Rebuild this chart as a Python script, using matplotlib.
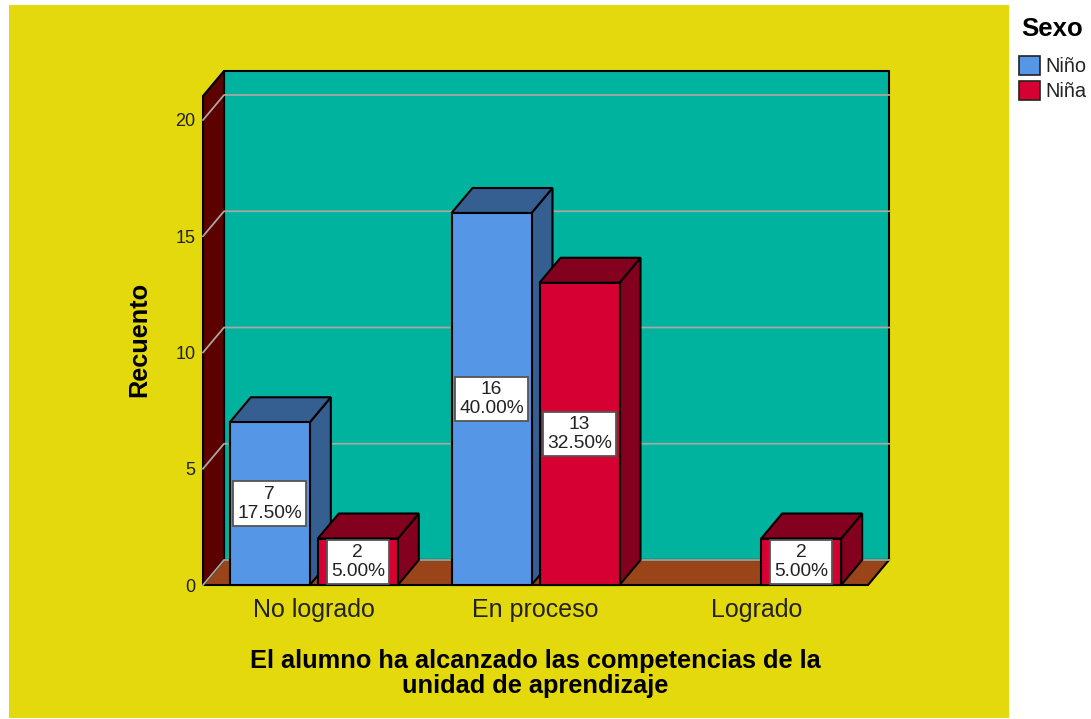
import matplotlib
matplotlib.use("Agg")
import matplotlib.pyplot as plt
from matplotlib.patches import Polygon, Rectangle, Patch

plt.rcParams['font.family'] = ['Liberation Sans', 'DejaVu Sans']

categories = ["No logrado", "En proceso", "Logrado"]
series_names = ["Niño", "Niña"]
nino = [7, 16, 0]
nina = [2, 13, 2]
nino_pct = ["17.50%", "40.00%", ""]
nina_pct = ["5.00%", "32.50%", "5.00%"]
yticks = [0, 5, 10, 15, 20]

W, H = 1091, 719
YELLOW = "#E3D90C"; TEAL = "#00B39F"; WALL = "#5C0000"; FLOOR = "#9A4419"
GRID = "#A8A8A0"
FACE = {"Niño": ("#5596E6", "#355E91"), "Niña": ("#D60032", "#84001F")}

fig = plt.figure(figsize=(W/100, H/100), dpi=100, facecolor="white")
fig.add_artist(Rectangle((9/W, 1-718/H), 1000/W, 713/H, transform=fig.transFigure,
                         fc=YELLOW, ec="none", zorder=-5))
ax = fig.add_axes([203/W, 1-585/H, 665/W, 489/H], facecolor="none")
ymax = 489/23.25
ax.set_xlim(-0.5, 2.5)
ax.set_ylim(0, ymax)
for s in ax.spines.values():
    s.set_visible(False)

# oblique depth of the 3-D box, in data units
dx = 21/665*3
dy = 25/23.25
lw = 1.5
x0, x1 = -0.5, 2.5

def poly(pts, fc, z, ec="black", lw_=lw):
    ax.add_patch(Polygon(pts, closed=True, fc=fc, ec=ec, lw=lw_, zorder=z,
                         clip_on=False, joinstyle="miter"))

# walls and floor
poly([(x0+dx, dy), (x1+dx, dy), (x1+dx, ymax+dy), (x0+dx, ymax+dy)], TEAL, 1)
poly([(x0, 0), (x0+dx, dy), (x0+dx, ymax+dy), (x0, ymax)], WALL, 1)
poly([(x0, 0), (x0+dx, dy), (x1+dx, dy), (x1, 0)], FLOOR, 1)

# gridlines on back and side wall
for v in yticks:
    ax.plot([x0, x0+dx, x1+dx], [v, v+dy, v+dy], color=GRID, lw=1.3, zorder=2,
            clip_on=False, solid_joinstyle="miter")

bw = 80/665*3
off = 44/665*3

def bar3d(xc, v, name, z):
    front, shade = FACE[name]
    l, r = xc-bw/2, xc+bw/2
    poly([(r, 0), (r+dx, dy), (r+dx, v+dy), (r, v)], shade, z)
    poly([(l, v), (l+dx, v+dy), (r+dx, v+dy), (r, v)], shade, z)
    ax.add_patch(Rectangle((l, 0), bw, v, fc=front, ec="black", lw=lw, zorder=z+0.1,
                           clip_on=False, joinstyle="miter"))

def label(xc, v, pct):
    ax.text(xc, v/2, f"{v}\n{pct}", ha="center", va="center", fontsize=13.8,
            linespacing=1.15, color="#222222", zorder=20,
            bbox=dict(boxstyle="square,pad=0.22", fc="white", ec="#555555", lw=1.3))

for i, (a, b) in enumerate(zip(nino, nina)):
    if a > 0:
        bar3d(i-off, a, "Niño", 5+i*2)
        label(i-off, a, nino_pct[i])
    if b > 0:
        bar3d(i+off, b, "Niña", 6+i*2)
        label(i+off, b, nina_pct[i])

ax.set_yticks(yticks)
ax.set_xticks(range(3), categories)
ax.tick_params(axis="y", length=0, pad=5.5, labelsize=13, labelcolor="#222222")
ax.tick_params(axis="x", length=0, pad=9.5, labelsize=18, labelcolor="#222222")

fig.text(139/W, 1-339/H, "Recuento", rotation=90, ha="center", va="center",
         fontsize=18.2, fontweight="bold", color="black")
fig.text(535/W, 1-673.5/H, "El alumno ha alcanzado las competencias de la\nunidad de aprendizaje",
         ha="center", va="center", fontsize=18.3, fontweight="bold", color="black", linespacing=1.05)

fig.text(1052/W, 1-29/H, "Sexo", ha="center", va="center", fontsize=18.5,
         fontweight="bold", color="black")
handles = [Patch(fc=FACE[n][0], ec="#222222", lw=1.2, label=n) for n in series_names]
leg = fig.legend(handles=handles, loc="upper left", bbox_to_anchor=(1019/W, 1-56/H),
                 frameon=False, fontsize=14.4, handlelength=1.05, handleheight=1.05,
                 handletextpad=0.25, labelspacing=0.25, borderpad=0, borderaxespad=0,
                 labelcolor="#222222")

fig.savefig("out.png", dpi=100)
